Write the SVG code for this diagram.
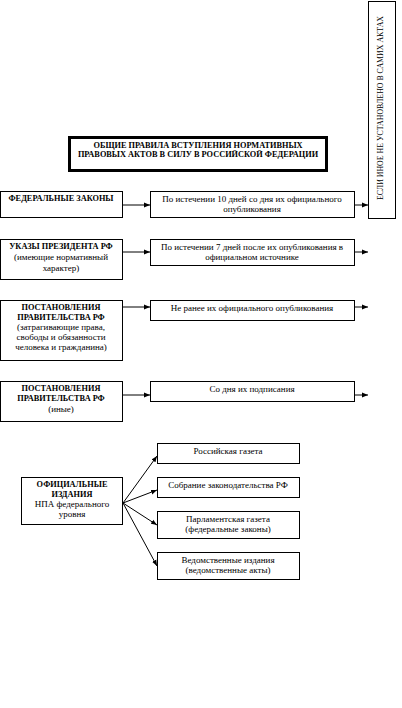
<svg xmlns="http://www.w3.org/2000/svg" width="402" height="708" viewBox="0 0 402 708">
<style>
.b{fill:#fff;stroke:#000;stroke-width:1}
.t{font-family:"Liberation Serif",serif;font-size:9px;fill:#000;text-anchor:middle}
.h{font-weight:bold;font-size:8.3px}
.c line{stroke:#000;stroke-width:1}
</style>
<defs>
<marker id="a" viewBox="0 0 10 10" refX="10" refY="5" markerWidth="6" markerHeight="6" orient="auto" markerUnits="userSpaceOnUse">
<path d="M0,1 L10,5 L0,9 z" fill="#000"/>
</marker>
</defs>
<rect width="402" height="708" fill="#fff"/>
<g id="side">
<rect class="b" x="368.5" y="1.5" width="27" height="217"/>
<text class="t" style="font-size:8.5px" transform="translate(380,108) rotate(-90)" y="3" textLength="184" lengthAdjust="spacingAndGlyphs">ЕСЛИ ИНОЕ НЕ УСТАНОВЛЕНО В САМИХ АКТАХ</text>
</g>
<g id="title">
<rect x="69.5" y="137.5" width="257" height="33" fill="#fff" stroke="#000" stroke-width="3"/>
<text class="t h" x="198" y="148">ОБЩИЕ ПРАВИЛА ВСТУПЛЕНИЯ НОРМАТИВНЫХ</text>
<text class="t h" x="198" y="157">ПРАВОВЫХ АКТОВ В СИЛУ В РОССИЙСКОЙ ФЕДЕРАЦИИ</text>
</g>
<g id="fz">
<rect class="b" x="0.5" y="191.5" width="122" height="26"/>
<text class="t h" x="61" y="201">ФЕДЕРАЛЬНЫЕ ЗАКОНЫ</text>
</g>
<g id="fz-r">
<rect class="b" x="150.5" y="191.5" width="204" height="26"/>
<text class="t" x="252" y="202">По истечении 10 дней со дня их официального</text>
<text class="t" x="252" y="212">опубликования</text>
</g>
<g id="up">
<rect class="b" x="0.5" y="239.5" width="122" height="40"/>
<text class="t h" x="61" y="249">УКАЗЫ ПРЕЗИДЕНТА РФ</text>
<text class="t" x="61" y="260">(имеющие нормативный</text>
<text class="t" x="61" y="271">характер)</text>
</g>
<g id="up-r">
<rect class="b" x="150.5" y="239.5" width="204" height="26"/>
<text class="t" x="252" y="250">По истечении 7 дней  после их опубликования в</text>
<text class="t" x="252" y="260">официальном источнике</text>
</g>
<g id="pp1">
<rect class="b" x="0.5" y="300.5" width="122" height="60"/>
<text class="t h" x="61" y="310">ПОСТАНОВЛЕНИЯ</text>
<text class="t h" x="61" y="320">ПРАВИТЕЛЬСТВА РФ</text>
<text class="t" x="61" y="330">(затрагивающие права,</text>
<text class="t" x="61" y="340">свободы и обязанности</text>
<text class="t" x="61" y="350">человека и гражданина)</text>
</g>
<g id="pp1-r">
<rect class="b" x="150.5" y="300.5" width="204" height="20"/>
<text class="t" x="252" y="311">Не ранее их официального опубликования</text>
</g>
<g id="pp2">
<rect class="b" x="0.5" y="381.5" width="122" height="40"/>
<text class="t h" x="61" y="391">ПОСТАНОВЛЕНИЯ</text>
<text class="t h" x="61" y="401">ПРАВИТЕЛЬСТВА РФ</text>
<text class="t" x="61" y="412">(иные)</text>
</g>
<g id="pp2-r">
<rect class="b" x="150.5" y="381.5" width="204" height="20"/>
<text class="t" x="252" y="392">Со дня их подписания</text>
</g>
<g id="oi">
<rect class="b" x="21.5" y="477.5" width="101" height="47"/>
<text class="t h" x="72" y="487">ОФИЦИАЛЬНЫЕ</text>
<text class="t h" x="72" y="497">ИЗДАНИЯ</text>
<text class="t" x="72" y="507">НПА федерального</text>
<text class="t" x="72" y="517">уровня</text>
</g>
<g id="rg">
<rect class="b" x="157.5" y="443.5" width="142" height="20"/>
<text class="t" x="228" y="454">Российская газета</text>
</g>
<g id="szrf">
<rect class="b" x="157.5" y="477.5" width="142" height="20"/>
<text class="t" x="228" y="488">Собрание законодательства РФ</text>
</g>
<g id="pg">
<rect class="b" x="157.5" y="511.5" width="142" height="27"/>
<text class="t" x="228" y="522">Парламентская газета</text>
<text class="t" x="228" y="532">(федеральные законы)</text>
</g>
<g id="vi">
<rect class="b" x="157.5" y="552.5" width="142" height="27"/>
<text class="t" x="228" y="563">Ведомственные издания</text>
<text class="t" x="228" y="573">(ведомственные акты)</text>
</g>
<g class="c">
<line x1="123" y1="205" x2="150" y2="205" marker-end="url(#a)"/>
<line x1="355" y1="205" x2="368" y2="205" marker-end="url(#a)"/>
<line x1="123" y1="252" x2="150" y2="252" marker-end="url(#a)"/>
<line x1="355" y1="252" x2="368" y2="252" marker-end="url(#a)"/>
<line x1="123" y1="307" x2="150" y2="307" marker-end="url(#a)"/>
<line x1="355" y1="307" x2="368" y2="307" marker-end="url(#a)"/>
<line x1="123" y1="395" x2="150" y2="395" marker-end="url(#a)"/>
<line x1="355" y1="395" x2="368" y2="395" marker-end="url(#a)"/>
<line x1="123" y1="503" x2="157" y2="456" marker-end="url(#a)"/>
<line x1="123" y1="503" x2="157" y2="490" marker-end="url(#a)"/>
<line x1="123" y1="503" x2="157" y2="525" marker-end="url(#a)"/>
<line x1="123" y1="503" x2="157" y2="566" marker-end="url(#a)"/>
</g>
</svg>
